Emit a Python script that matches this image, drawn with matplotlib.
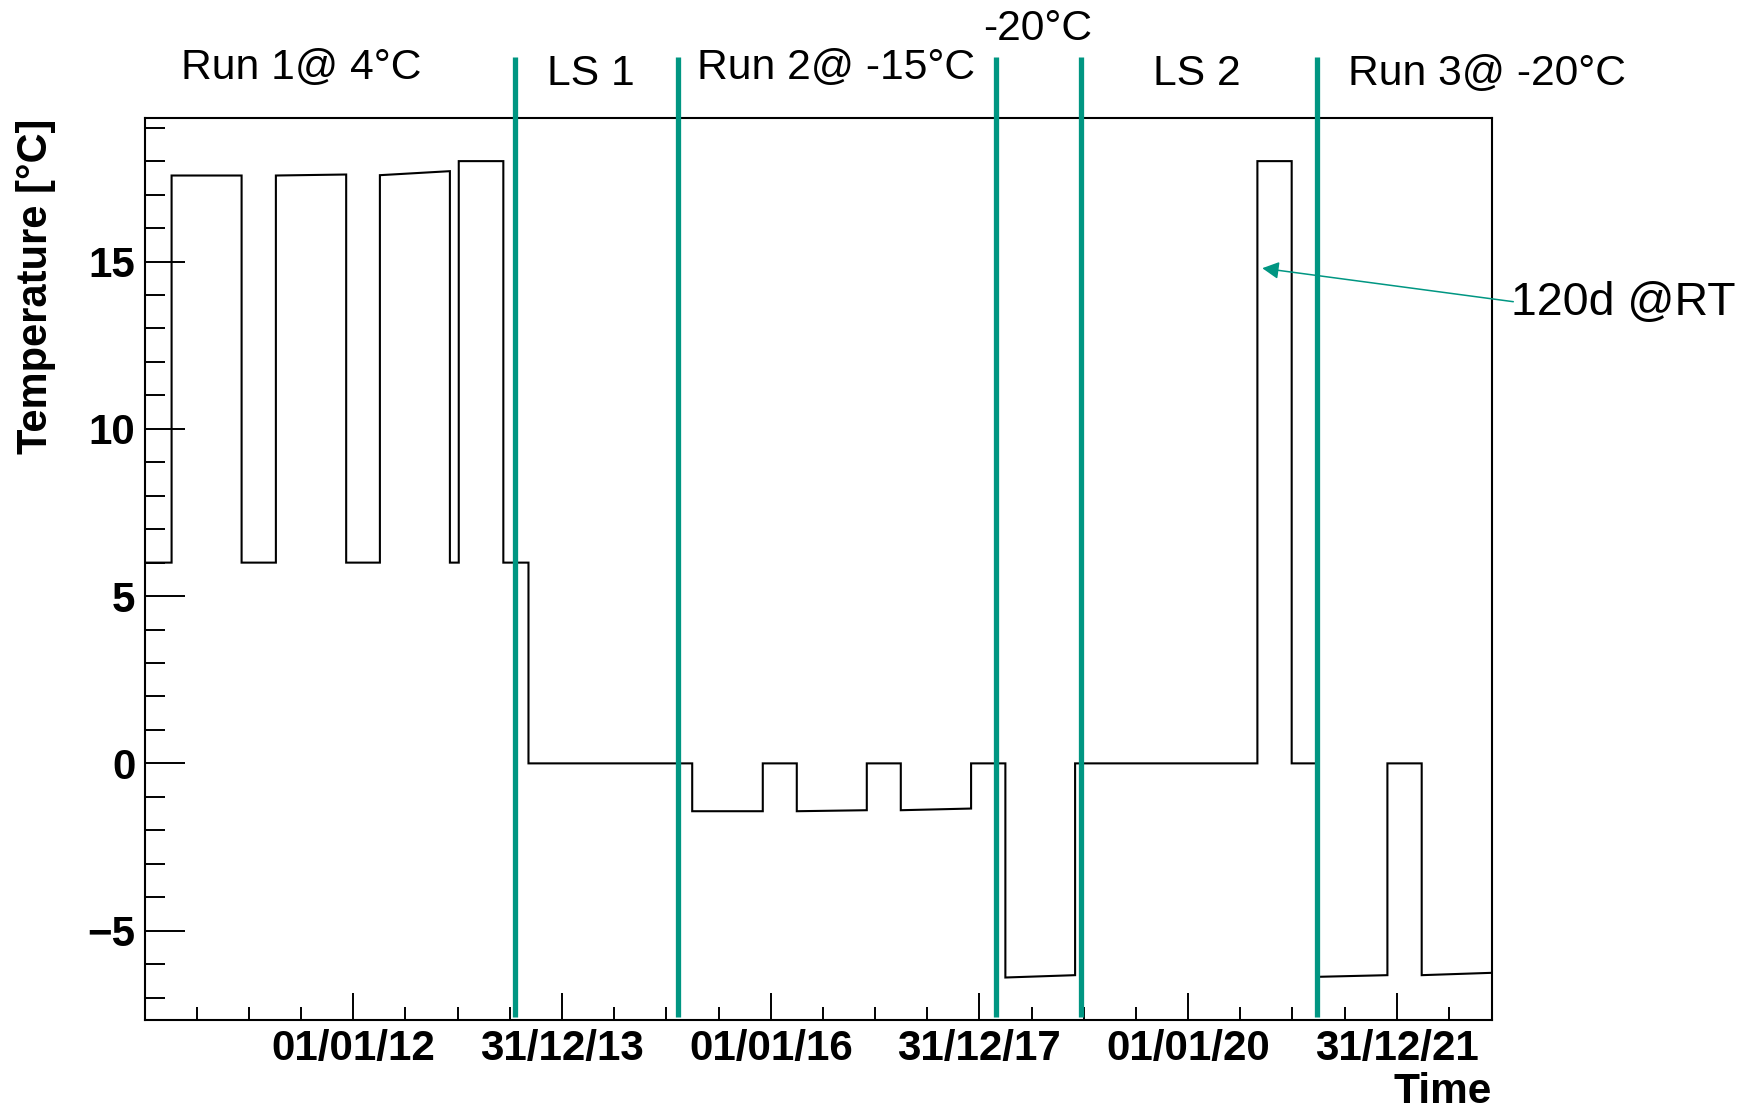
import numpy as np
import matplotlib
matplotlib.use("Agg")
import matplotlib.pyplot as plt
import matplotlib.dates as mdates

plt.rcParams['font.family'] = ['Liberation Sans', 'DejaVu Sans']

# ---------------- data ----------------
# boundaries of the temperature periods (piecewise segments)
step_dates = ['2010-01-03', '2010-04-05', '2010-12-06', '2011-04-05', '2011-12-07',
              '2012-04-03', '2012-12-04', '2013-01-04', '2013-06-09', '2013-09-05',
              '2015-04-01', '2015-12-04', '2016-04-01', '2016-12-02', '2017-03-31',
              '2017-12-02', '2018-04-01', '2018-12-01', '2020-08-30', '2020-12-28',
              '2021-03-27', '2021-11-28', '2022-03-28', '2022-11-28']
temp_start = [6, 17.57, 6, 17.57, 6, 17.58, 6, 18.0, 6, 0, -1.43, 0, -1.43, 0, -1.40,
              0, -6.40, 0, 18.0, 0, -6.38, 0, -6.33]
temp_end = [6, 17.57, 6, 17.60, 6, 17.70, 6, 18.0, 6, 0, -1.43, 0, -1.40, 0, -1.35,
            0, -6.33, 0, 18.0, 0, -6.33, 0, -6.26]

phase_bounds = ['2013-07-19', '2015-02-12', '2018-02-27', '2018-12-22', '2021-03-25']
phase_labels = ['Run 1@ 4°C', 'LS 1', 'Run 2@ -15°C', '-20°C', 'LS 2', 'Run 3@ -20°C']

tick_dates = ['2012-01-01', '2013-12-31', '2016-01-01', '2017-12-31', '2020-01-01', '2021-12-31']
tick_labels = ['01/01/12', '31/12/13', '01/01/16', '31/12/17', '01/01/20', '31/12/21']
y_major = [-5, 0, 5, 10, 15]

xlim_dates = ['2010-01-03', '2022-11-28']
ylim = (-7.67, 19.28)

arrow_date = '2020-09-16'
arrow_temp = 14.8
arrow_text = '120d @RT'

# ---------------- figure ----------------
W, H = 1742, 1110
green = '#009682'
fig = plt.figure(figsize=(W / 100, H / 100), dpi=100)
ax = fig.add_axes([145.3 / W, 1 - 1020 / H, (1491.7 - 145.3) / W, (1020 - 118.3) / H])

xb = mdates.datestr2num(step_dates)
xs, ys = [], []
for i in range(len(temp_start)):
    xs += [xb[i], xb[i + 1]]
    ys += [temp_start[i], temp_end[i]]
ax.plot(xs, ys, color='black', lw=1.5, solid_joinstyle='miter', zorder=3)

xl = mdates.datestr2num(xlim_dates)
ax.set_xlim(xl[0], xl[1])
ax.set_ylim(*ylim)

# ticks
tn = mdates.datestr2num(tick_dates)
ax.set_xticks(tn)
ax.set_xticklabels(tick_labels, fontsize=30.3, fontweight='bold')
step = (tn[-1] - tn[0]) / (len(tn) - 1) / 4
minor = [tn[0] + k * step for k in range(-8, 40)
         if xl[0] < tn[0] + k * step < xl[1] and k % 4 != 0]
ax.set_xticks(minor, minor=True)
ax.set_yticks(y_major)
ax.set_yticklabels([str(v).replace('-', '\u2212') for v in y_major], fontsize=30.3, fontweight='bold')
ax.set_yticks(np.arange(-7, 20, 1), minor=True)

ax.tick_params(axis='x', which='major', direction='in', length=19.2, width=1.4, top=False, pad=6.5)
ax.tick_params(axis='x', which='minor', direction='in', length=9.6, width=1.4, top=False)
ax.tick_params(axis='y', which='major', direction='in', length=28.8, width=1.4, right=False, pad=7)
ax.tick_params(axis='y', which='minor', direction='in', length=14.4, width=1.4, right=False)
for s in ax.spines.values():
    s.set_linewidth(1.5)

# axis labels (ROOT style: at the end of the axes)
ax.set_ylabel('Temperature [°C]', fontsize=30, fontweight='bold', loc='top')
ax.yaxis.set_label_coords((36 - 145.3) / (1491.7 - 145.3), 1.0)
ax.yaxis.label.set_verticalalignment('center')
ax.set_xlabel('Time', fontsize=30.5, fontweight='bold', loc='right')
ax.xaxis.set_label_coords(1.0, (1020 - 1092) / (1020 - 118.3))
ax.xaxis.label.set_verticalalignment('center')

# phase boundaries
for d in mdates.datestr2num(phase_bounds):
    ax.axvline(d, ymin=0.0033, ymax=1.0677, color=green, lw=3.8, clip_on=False,
               zorder=6, solid_capstyle='butt')

# phase labels
label_pos = [(301.7, 68), (591, 74), (836, 68), (1037.5, 29), (1197, 74), (1487, 74)]
for txt, (px, py) in zip(phase_labels, label_pos):
    fig.text(px / W, 1 - py / H, txt, fontsize=30.7, ha='center', va='center', color='black')

# annotation arrow
ax.annotate('', xy=(mdates.datestr2num(arrow_date), arrow_temp), xycoords='data',
            xytext=(1513.3, H - 301.7), textcoords='figure pixels',
            arrowprops=dict(arrowstyle='-|>,head_length=0.5,head_width=0.26',
                            mutation_scale=20, color=green, lw=1.1,
                            shrinkA=0, shrinkB=0),
            annotation_clip=False, zorder=7)
fig.text(1511 / W, 1 - 303 / H, arrow_text, fontsize=33.5, ha='left', va='center', color='black')

fig.savefig('out.png', dpi=100)
